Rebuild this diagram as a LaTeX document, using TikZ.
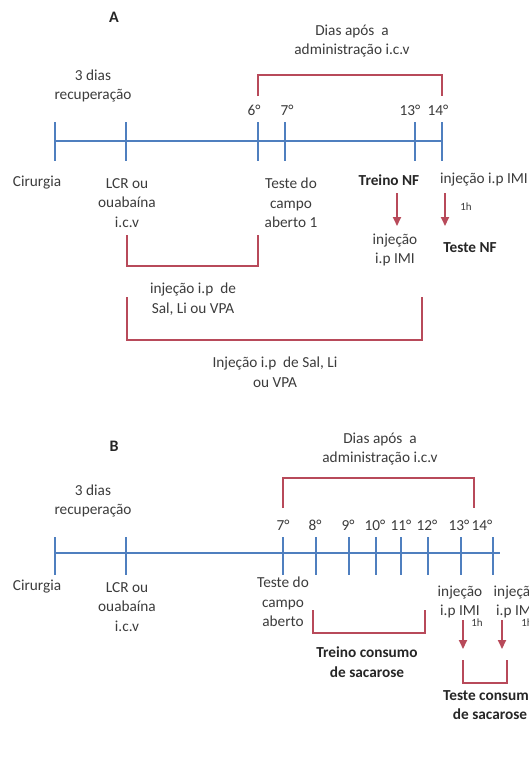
\documentclass[tikz,border=0pt]{standalone}
\usepackage{fontspec}
\setmainfont{Carlito}
\usetikzlibrary{arrows.meta}
\definecolor{tlblue}{HTML}{4F7FBF}
\definecolor{brred}{HTML}{B84A5A}
\definecolor{txt}{HTML}{3C3C3C}
\begin{document}
\begin{tikzpicture}[x=1pt,y=-1pt,
 lbl/.style={font=\fontsize{15.3}{19.5}\selectfont, text=txt, align=center, inner sep=0pt},
 blbl/.style={font=\fontsize{15.3}{19.5}\selectfont\bfseries, text=black!85, align=center, inner sep=0pt},
 head/.style={font=\fontsize{16}{19}\selectfont\bfseries, text=black!85, inner sep=0pt},
 small/.style={font=\fontsize{11}{12}\selectfont, text=txt, inner sep=0pt},
 tl/.style={draw=tlblue, line width=2.2pt},
 tk/.style={draw=tlblue, line width=1.8pt},
 br/.style={draw=brred, line width=2pt},
 arr/.style={draw=brred, line width=2pt, -{Triangle[width=8pt,length=9pt]}},
]
\useasboundingbox[fill=white] (0,0) rectangle (529,758);

% ================= PANEL A =================
\node[head] (A) at (114,17) {A};
\node[lbl] (adias) at (352,41) {Dias após\ \ a\\administração i.c.v};
\node[lbl] (arec) at (93,86) {3 dias\\recuperação};

% timeline A
\coordinate (aS) at (55,141);
\coordinate (aE) at (442,141);
\draw[tl] (aS) -- (aE);
\foreach \n/\x in {t0/55,t1/126,t6/258,t7/285,t13/415,t14/442}{
  \coordinate (a\n u) at (\x,122);
  \coordinate (a\n d) at (\x,161);
  \draw[tk] (a\n u) -- (a\n d);
}
\node[lbl] (a6) at (254,110) {6°};
\node[lbl] (a7) at (287,110) {7°};
\node[lbl] (a13) at (410,110) {13°};
\node[lbl] (a14) at (438,110) {14°};

% bracket over days A
\coordinate (abl) at (258,96);
\coordinate (abr) at (442,96);
\draw[br] (abl) -- (258,75) -- (442,75) -- (abr);

% labels below A
\node[lbl] (acir) at (37,183) {Cirurgia};
\node[lbl] (alcr) at (127,203) {LCR ou\\ouabaína\\i.c.v};
\node[lbl] (ateste) at (291,203) {Teste do\\campo\\aberto 1};
\node[blbl] (atreino) at (389,180) {Treino NF};
\node[lbl] (ainj) at (484,180) {injeção i.p IMI};
\node[lbl] (ainj2) at (395,250) {injeção\\i.p IMI};
\node[blbl] (atnf) at (470,248) {Teste NF};
\coordinate (ar1s) at (397,193);
\coordinate (ar1e) at (397,226);
\coordinate (ar2s) at (445,193);
\coordinate (ar2e) at (445,226);
\draw[arr] (ar1s) -- (ar1e);
\draw[arr] (ar2s) -- (ar2e);
\node[small] (a1h) at (466,207) {1h};

% bracket 1 A
\coordinate (ab1l) at (127,235);
\coordinate (ab1r) at (258,235);
\draw[br] (ab1l) -- (127,266) -- (258,266) -- (ab1r);
\node[lbl] (ainjsal) at (193,299) {injeção i.p\ \ de\\Sal, Li ou VPA};

% bracket 2 A
\coordinate (ab2l) at (127,297);
\coordinate (ab2r) at (422,297);
\draw[br] (ab2l) -- (127,340) -- (422,340) -- (ab2r);
\node[lbl] (ainjsal2) at (275,372) {Injeção i.p\ \ de Sal, Li\\ou VPA};

% ================= PANEL B =================
\node[head] (B) at (114,446) {B};
\node[lbl] (bdias) at (380,449) {Dias após\ \ a\\administração i.c.v};
\node[lbl] (brec) at (93,501) {3 dias\\recuperação};

\coordinate (bS) at (55,553);
\coordinate (bE) at (500,553);
\draw[tl] (bS) -- (bE);
\foreach \n/\x in {t0/55,t1/126,t7/283,t8/316,t9/349,t10/376,t11/401,t12/428,t13/461,t14/493}{
  \coordinate (b\n u) at (\x,537);
  \coordinate (b\n d) at (\x,575);
  \draw[tk] (b\n u) -- (b\n d);
}
\node[lbl] (b7) at (283,525) {7°};
\node[lbl] (b8) at (315,525) {8°};
\node[lbl] (b9) at (348,525) {9°};
\node[lbl] (b10) at (375,525) {10°};
\node[lbl] (b11) at (401,525) {11°};
\node[lbl] (b12) at (427,525) {12°};
\node[lbl] (b13) at (459,525) {13°};
\node[lbl] (b14) at (482,525) {14°};

\coordinate (bbl) at (283,508);
\coordinate (bbr) at (474,508);
\draw[br] (bbl) -- (283,478) -- (474,478) -- (bbr);

\node[lbl] (bcir) at (37,587) {Cirurgia};
\node[lbl] (blcr) at (127,607) {LCR ou\\ouabaína\\i.c.v};
\node[lbl] (bteste) at (283,602) {Teste do\\campo\\aberto};

% treino bracket
\coordinate (btl) at (313,610);
\coordinate (btr) at (425,610);
\draw[br] (btl) -- (313,633) -- (425,633) -- (btr);
\node[blbl] (btreino) at (367,662) {Treino consumo\\de sacarose};

\node[lbl] (binj1) at (460,602) {injeção\\i.p IMI};
\node[lbl] (binj2) at (516,602) {injeção\\i.p IMI};
\coordinate (br1s) at (463,620);
\coordinate (br1e) at (463,649);
\coordinate (br2s) at (502,620);
\coordinate (br2e) at (502,649);
\draw[arr] (br1s) -- (br1e);
\draw[arr] (br2s) -- (br2e);
\node[small] (b1h1) at (477,623) {1h};
\node[small] (b1h2) at (527,623) {1h};

\coordinate (bcl) at (463,660);
\coordinate (bcr) at (507,660);
\draw[br] (bcl) -- (463,683) -- (507,683) -- (bcr);
\node[blbl] (bteste2) at (490,705) {Teste consumo\\de sacarose};
\end{tikzpicture}
\end{document}
